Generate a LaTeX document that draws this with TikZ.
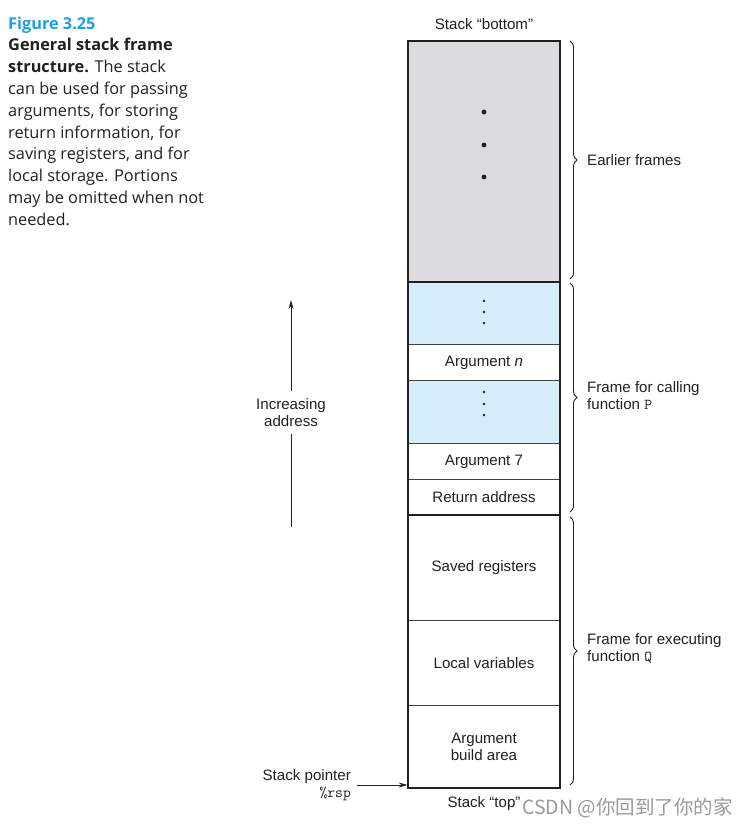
\documentclass[tikz,border=0pt]{standalone}
\usepackage{fontspec}
\setmainfont{Liberation Sans}
\newfontfamily\capfont{Open Sans}
\newfontfamily\cjk{Noto Sans CJK SC}
\usetikzlibrary{decorations.pathreplacing,arrows.meta}
\definecolor{txt}{HTML}{231F20}
\definecolor{framegray}{HTML}{DCDCDE}
\definecolor{frameblue}{HTML}{D5ECF9}
\definecolor{figblue}{HTML}{1BA1E2}
\definecolor{wmgray}{HTML}{9A9A9A}
\tikzset{
  cell/.style={draw=txt!85, line width=0.8pt, minimum width=152pt, inner sep=0pt, anchor=north, align=center},
  border/.style={draw=txt, line width=2pt},
  brace/.style={decorate, decoration={brace, amplitude=7pt}, draw=txt, line width=0.9pt},
  lbl/.style={anchor=west, align=left, inner sep=0pt},
  arr/.style={draw=txt, line width=0.9pt, -{Stealth[length=9pt,width=5pt]}},
  dotbig/.style={fill=txt},
}
\begin{document}
\begin{tikzpicture}[x=1pt,y=-1pt, font=\fontsize{15.1}{17}\selectfont, text=txt]
\useasboundingbox (0,0) rectangle (747,828);
% caption
\node[anchor=north west, inner sep=0pt, align=left, font=\capfont\fontsize{16.3}{21.8}\selectfont] (cap) at (8,16.5)
 {{\color{figblue}\bfseries Figure 3.25}\\
  \bfseries General stack frame\\
  \bfseries structure. \mdseries The stack\\
  can be used for passing\\
  arguments, for storing\\
  return information, for\\
  saving registers, and for\\
  local storage. Portions\\
  may be omitted when not\\
  needed.};
% stack cells
\node[cell, fill=framegray, minimum height=240pt] (earlier) at (484,41) {};
\node[cell, fill=frameblue, minimum height=63pt] (blue1) at (484,281) {};
\node[cell, minimum height=36pt] (argn) at (484,344) {Argument \textit{n}};
\node[cell, fill=frameblue, minimum height=63pt] (blue2) at (484,380) {};
\node[cell, minimum height=36pt] (arg7) at (484,443) {Argument 7};
\node[cell, minimum height=35pt] (ret) at (484,479) {Return address};
\node[cell, minimum height=106pt] (saved) at (484,514) {Saved registers};
\node[cell, minimum height=85pt] (local) at (484,620) {Local variables};
\node[cell, minimum height=82pt] (build) at (484,705) {Argument\\build area};
% thick borders
\draw[border] (earlier.north west) rectangle (build.south east);
\draw[border] (earlier.south west) -- (earlier.south east);
\draw[border] (ret.south west) -- (ret.south east);
% dots
\fill[dotbig] (484,112) circle (2.4pt) (484,145) circle (2.4pt) (484,177) circle (2.4pt);
\fill[txt] (484,301) circle (1.3pt) (484,312) circle (1.3pt) (484,323) circle (1.3pt);
\fill[txt] (484,392) circle (1.3pt) (484,404) circle (1.3pt) (484,415) circle (1.3pt);
% top / bottom labels
\node (sbot) at (484,24) {Stack “bottom”};
\node (stop) at (484,804) {Stack “top”};
% braces
\coordinate (b1t) at (570,41); \coordinate (b1b) at (570,279);
\coordinate (b2t) at (570,283); \coordinate (b2b) at (570,512);
\coordinate (b3t) at (570,517); \coordinate (b3b) at (570,785);
\draw[brace] (b1t) -- (b1b);
\draw[brace] (b2t) -- (b2b);
\draw[brace] (b3t) -- (b3b);
\node[lbl] (earlbl) at (587,160) {Earlier frames};
\node[lbl] (plbl) at (587,396) {Frame for calling\\function {\ttfamily P}};
\node[lbl] (qlbl) at (587,649) {Frame for executing\\function {\ttfamily Q}};
% increasing address
\node[align=center, inner sep=0pt] (incr) at (291,413) {Increasing\\address};
\coordinate (atop) at (291,300);
\coordinate (abot) at (291,527);
\draw[arr] ([yshift=8pt]incr.north) -- (atop);
\draw[draw=txt, line width=0.9pt] (abot) -- ([yshift=-7pt]incr.south);
% stack pointer
\node[align=right, anchor=east, inner sep=0pt] (sp) at (351,785) {Stack pointer\\{\ttfamily\%rsp}};
\draw[arr] ([xshift=6pt]sp.east) -- (sp.east -| build.west);
% watermark
\node[anchor=west, inner sep=0pt, text=wmgray, font=\cjk\fontsize{19.5}{21}\selectfont] (wm) at (522,808) {CSDN @你回到了你的家};
\end{tikzpicture}
\end{document}
